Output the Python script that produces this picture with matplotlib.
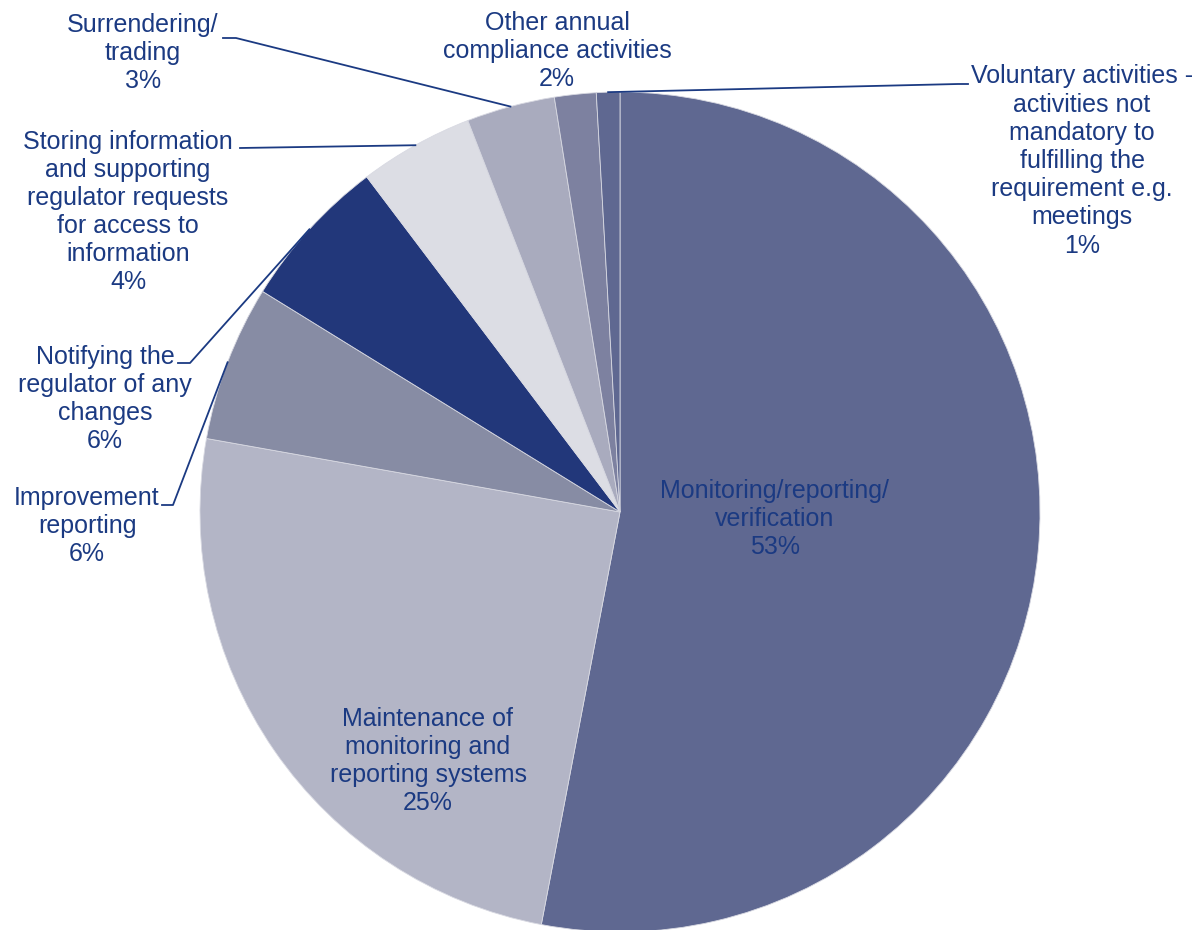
import numpy as np
import matplotlib.pyplot as plt

plt.rcParams['font.family'] = ['Liberation Sans', 'DejaVu Sans']

# 数据
labels = ["Monitoring/reporting/\nverification",
          "Maintenance of\nmonitoring and\nreporting systems",
          "Improvement\nreporting",
          "Notifying the\nregulator of any\nchanges",
          "Storing information\nand supporting\nregulator requests\nfor access to\ninformation",
          "Surrendering/\ntrading",
          "Other annual\ncompliance activities",
          "Voluntary activities -\nactivities not\nmandatory to\nfulfilling the\nrequirement e.g.\nmeetings"]
values = [53.0, 24.8, 6.0, 5.9, 4.4, 3.4, 1.6, 0.9]
colors = ["#5f6891", "#b3b5c6", "#878ca4", "#22377a", "#dcdde4", "#a9abbe", "#7d81a0", "#5f6891"]

txt_color = "#1b3a82"
W, H = 1199, 930
cx, cy, R = 620, 512, 420

fig = plt.figure(figsize=(W / 100, H / 100), dpi=100)
ax = fig.add_axes([0, 0, 1, 1])

def px(x, y):
    # 像素坐标 -> 数据坐标
    return (x - cx) / R, (cy - y) / R

wedges, _ = ax.pie(values, startangle=90, counterclock=False, colors=colors,
                   radius=1, wedgeprops=dict(edgecolor="#d8d9e2", linewidth=0.6))
ax.set_aspect('auto')
ax.set_xlim(-cx / R, (W - cx) / R)
ax.set_ylim((cy - H) / R, cy / R)
ax.axis('off')

pcts = ["%d%%" % round(v) for v in values]

# 标签位置 (像素), 引线折点
label_pos = [(775, 519), (428, 761), (87, 526), (105, 399),
             (128, 212), (143, 53), (557, 51), (1082, 161)]
elbows = [None, None,
          [(162, 505), (173, 505)],
          [(178, 363), (190, 363)],
          [(240, 148)],
          [(223, 38), (236, 38)],
          None,
          [(968, 84), (958, 84)]]

for i, w in enumerate(wedges):
    x, y = px(*label_pos[i])
    ax.text(x, y, labels[i] + "\n" + pcts[i], ha="center", va="center",
            fontsize=18, color=txt_color, linespacing=1.22)
    if elbows[i] is not None:
        ang = np.deg2rad((w.theta1 + w.theta2) / 2)
        pts = [px(*p) for p in elbows[i]] + [(np.cos(ang), np.sin(ang))]
        xs, ys = zip(*pts)
        ax.plot(xs, ys, color=txt_color, lw=1.3)

fig.savefig("out.png", dpi=100)
